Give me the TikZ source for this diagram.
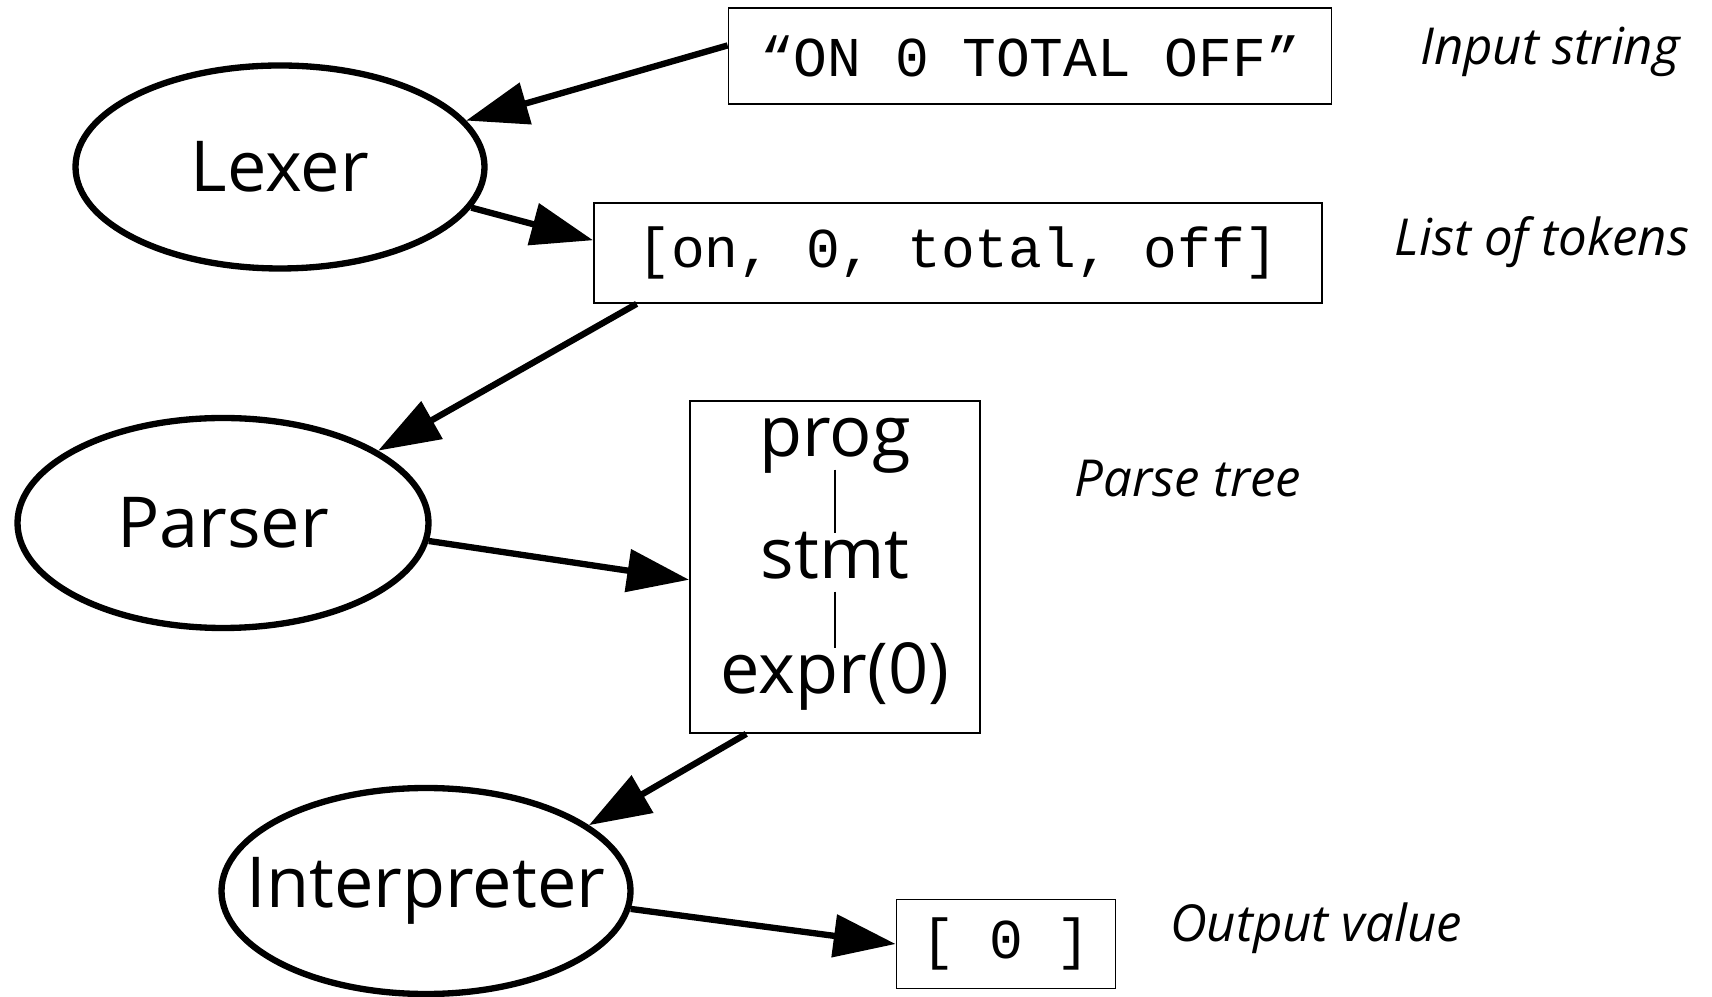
\documentclass[tikz,border=0pt]{standalone}
\usepackage{fontspec}
\setmainfont{Open Sans}
\setmonofont{Liberation Mono}
\usepackage{tikz}
\usetikzlibrary{shapes,arrows.meta,positioning}

\begin{document}
\begin{tikzpicture}[
          stage/.style={ellipse, draw, line width=1.8pt, inner sep=0pt,
            label={[font=\fontsize{20}{24}\selectfont]center:#1}},
          data/.style={rectangle, draw, line width=0.5pt, inner sep=0pt, font=\ttfamily\fontsize{16}{19}\selectfont},
          treeitem/.style={anchor=base, inner sep=0pt, text height=0.45cm, text depth=0.12cm, font=\fontsize{20}{24}\selectfont},
          note/.style={font=\itshape\fontsize{14.5}{17}\selectfont},
          flow/.style={line width=1.8pt, -{Triangle[length=0.62cm, width=0.42cm]}}
        ]
          \useasboundingbox (0,0) rectangle (17.12,-9.97);

          \node[stage=Lexer, minimum width=4.09cm, minimum height=2.03cm] (lexer) at (2.80,-1.67) {};
          \node[stage=Parser, minimum width=4.11cm, minimum height=2.10cm] (parser) at (2.23,-5.23) {};
          \node[stage=Interpreter, minimum width=4.09cm, minimum height=2.06cm] (interp) at (4.26,-8.91) {};

          \node[data, minimum width=6.03cm, minimum height=0.96cm] (input) at (10.30,-0.56) {“ON 0 TOTAL OFF”};
          \node[data, minimum width=7.28cm, minimum height=1.00cm] (tokens) at (9.58,-2.53) {[on, 0, total, off]};
          \node[data, minimum width=2.90cm, minimum height=3.32cm] (tree) at (8.35,-5.67) {};
          \node[data, minimum width=2.19cm, minimum height=0.89cm] (output) at (10.06,-9.44) {[ 0 ]};

          % parse tree inside the box
          \node[treeitem] (prog) at (8.35,-4.57) {prog};
          \node[treeitem] (stmt) at (8.35,-5.79) {stmt};
          \node[treeitem] (expr) at (8.35,-6.94) {expr(0)};
          \draw[line width=0.4pt] (prog.south) -- (stmt.north);
          \draw[line width=0.4pt] (stmt.south) -- (expr.north);

          \node[note] (innote) at (15.50,-0.52) {Input string};
          \node[note] (toknote) at (15.42,-2.42) {List of tokens};
          \node[note] (treenote) at (11.88,-4.79) {Parse tree};
          \node[note] (outnote) at (13.16,-9.28) {Output value};

          \draw[flow] (input.178) -- (lexer.14);
          \draw[flow] (lexer.-12) -- (tokens.178);
          \draw[flow] (tokens.189) -- (parser.25);
          \draw[flow] (parser.-5) -- (tree.185);
          \draw[flow] (tree.242) -- (interp.22);
          \draw[flow] (interp.-5) -- (output.west);

        \end{tikzpicture}
\end{document}
